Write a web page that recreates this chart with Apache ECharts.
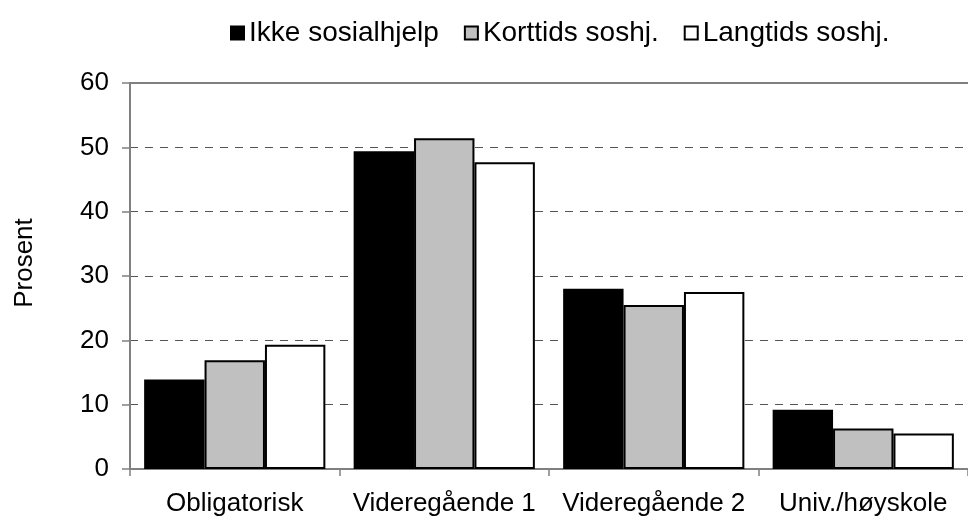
<!DOCTYPE html>
<html>
<head>
<meta charset="utf-8">
<script src="https://cdn.jsdelivr.net/npm/echarts@6/dist/echarts.min.js"></script>
<style>
html,body{margin:0;padding:0;background:#fff;}
#chart{width:968px;height:520px;}
</style>
</head>
<body>
<div id="chart"></div>
<script>
var categories = ['Obligatorisk', 'Videregående 1', 'Videregående 2', 'Univ./høyskole'];
var seriesNames = ['Ikke sosialhjelp', 'Korttids soshj.', 'Langtids soshj.'];
var ikkeSosialhjelp = [13.9, 49.4, 28.0, 9.2];
var korttids = [16.9, 51.4, 25.5, 6.3];
var langtids = [19.3, 47.7, 27.5, 5.5];
var yTicks = [0, 10, 20, 30, 40, 50, 60];

var font = 'Liberation Sans, Arial, sans-serif';
var chart = echarts.init(document.getElementById('chart'), null, {renderer: 'canvas'});
function barSeries(name, data, color) {
  return {
    name: name,
    type: 'bar',
    data: data,
    barGap: '0%',
    barCategoryGap: '13.5%',
    itemStyle: {color: color, borderColor: '#000', borderWidth: 2}
  };
}
chart.setOption({
  animation: false,
  backgroundColor: '#fff',
  textStyle: {fontFamily: font},
  legend: {
    left: 225, top: 14,
    itemWidth: 13, itemHeight: 13, itemGap: 25,
    textStyle: {fontFamily: font, fontSize: 28, color: '#000'},
    data: seriesNames.map(function(n){ return {name: n, icon: 'rect'}; })
  },
  grid: {left: 130, right: -9, top: 83, bottom: 51, containLabel: false},
  xAxis: [{
    type: 'category',
    data: categories,
    axisLine: {lineStyle: {color: '#808080', width: 2}},
    axisTick: {show: true, length: 7, lineStyle: {color: '#808080', width: 1.5}},
    axisLabel: {fontFamily: font, fontSize: 26, color: '#000', margin: 22, interval: 0}
  }, {
    type: 'category',
    data: categories,
    position: 'top',
    axisLine: {show: true, lineStyle: {color: '#808080', width: 2}},
    axisTick: {show: false},
    axisLabel: {show: false}
  }],
  yAxis: {
    type: 'value',
    min: yTicks[0], max: yTicks[yTicks.length - 1], interval: 10,
    name: 'Prosent',
    nameLocation: 'middle',
    nameGap: 92,
    nameTextStyle: {fontFamily: font, fontSize: 26, color: '#000', padding: [0, 0, 0, 26]},
    axisLine: {show: true, lineStyle: {color: '#808080', width: 2}},
    axisTick: {show: true, length: 8, lineStyle: {color: '#808080', width: 1.5}},
    axisLabel: {fontFamily: font, fontSize: 26, color: '#000', margin: 21},
    splitLine: {show: true, lineStyle: {color: '#555', width: 1.2, type: [8, 7]}}
  },
  series: [
    barSeries(seriesNames[0], ikkeSosialhjelp, '#000000'),
    barSeries(seriesNames[1], korttids, '#c0c0c0'),
    barSeries(seriesNames[2], langtids, '#ffffff')
  ]
});
</script>
</body>
</html>
